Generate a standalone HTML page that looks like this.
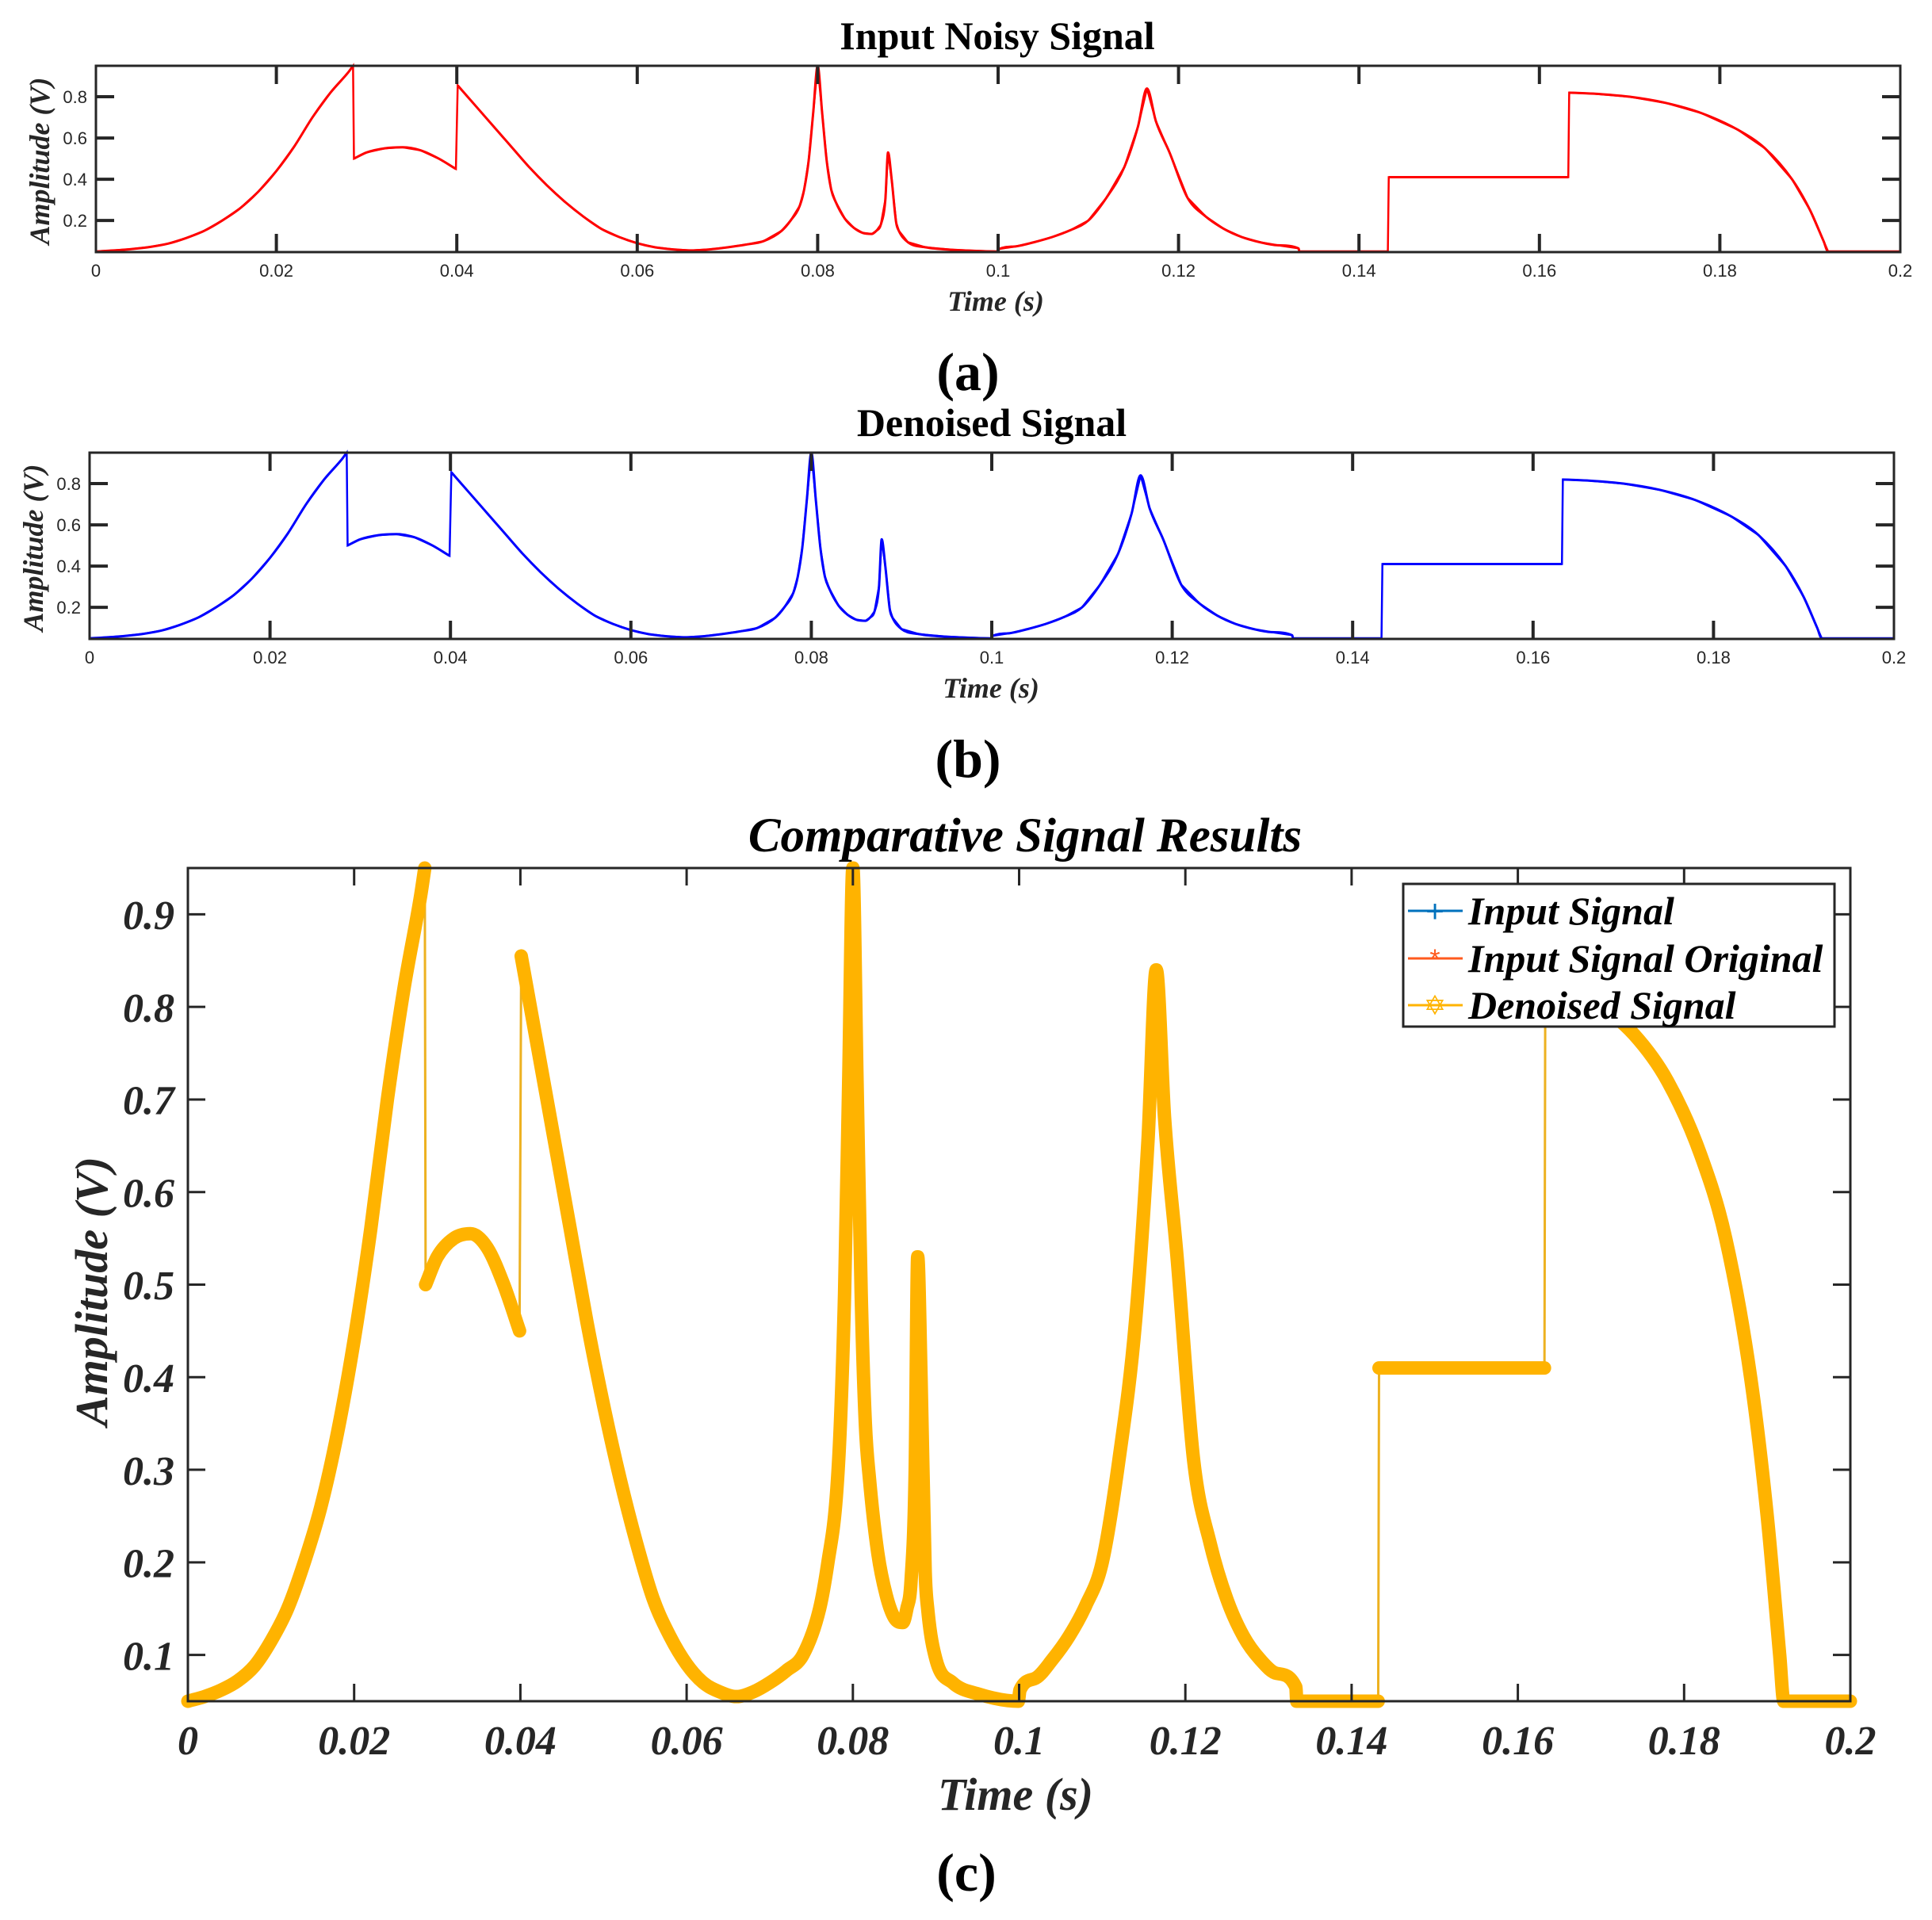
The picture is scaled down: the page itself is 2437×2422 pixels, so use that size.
<!DOCTYPE html>
<html><head><meta charset="utf-8">
<style>
html,body{margin:0;padding:0;background:#fff;}
svg{display:block;}
.serif{font-family:"Liberation Serif",serif;}
.sans{font-family:"Liberation Sans",sans-serif;}
</style></head>
<body>
<svg id="fig" width="2437" height="2422" viewBox="0 0 2437 2422" xmlns="http://www.w3.org/2000/svg"></svg>
<script>
// ---- data ----
const times = [0,0.002,0.004,0.006,0.008,0.010,0.012,0.014,0.016,0.018,0.020,0.022,0.024,0.026,0.028,0.0285,
 0.0286,0.030,0.032,0.034,0.036,0.038,0.0399,
 0.0401,0.042,0.044,0.046,0.048,0.050,0.052,0.054,0.056,0.058,0.060,0.062,0.064,0.066,
 0.068,0.070,0.072,0.074,0.076,0.077,0.078,0.0785,0.079,0.0795,0.080,0.0805,0.081,0.0815,0.082,0.083,0.084,0.085,0.086,0.0865,0.087,0.0875,0.0878,0.0882,0.0887,0.089,0.090,0.092,0.095,0.0999,
 0.1001,0.102,0.104,0.106,0.108,0.110,0.112,0.114,0.1155,0.1165,0.1175,0.119,0.121,0.123,0.125,0.127,0.129,0.131,0.1333,
 0.1334,0.1432,0.1433,0.1632,0.1633,0.166,0.170,0.174,0.178,0.182,0.185,0.188,0.190,0.1915,0.192,0.2];
const values = [0.05,0.055,0.062,0.072,0.088,0.115,0.15,0.2,0.26,0.34,0.44,0.56,0.70,0.82,0.92,0.95,
 0.50,0.53,0.55,0.555,0.54,0.50,0.45,
 0.855,0.76,0.66,0.56,0.46,0.37,0.29,0.22,0.16,0.12,0.09,0.07,0.06,0.055,
 0.06,0.07,0.083,0.10,0.15,0.2,0.27,0.35,0.49,0.72,0.95,0.72,0.49,0.35,0.29,0.21,0.165,0.14,0.135,0.15,0.18,0.3,0.53,0.4,0.19,0.15,0.095,0.07,0.058,0.05,
 0.062,0.075,0.095,0.12,0.153,0.2,0.31,0.46,0.655,0.84,0.68,0.53,0.31,0.22,0.16,0.12,0.095,0.08,0.065,
 0.05,0.05,0.41,0.41,0.82,0.815,0.80,0.77,0.72,0.64,0.55,0.40,0.25,0.10,0.05,0.05];
const xTicks = [0,0.02,0.04,0.06,0.08,0.1,0.12,0.14,0.16,0.18,0.2];
const xTickLabels = ["0","0.02","0.04","0.06","0.08","0.1","0.12","0.14","0.16","0.18","0.2"];
const yTicksSmall = [0.2,0.4,0.6,0.8];
const yTickLabelsSmall = ["0.2","0.4","0.6","0.8"];
const yTicksBig = [0.1,0.2,0.3,0.4,0.5,0.6,0.7,0.8,0.9];
const yTickLabelsBig = ["0.1","0.2","0.3","0.4","0.5","0.6","0.7","0.8","0.9"];
const legendLabels = ["Input Signal","Input Signal Original","Denoised Signal"];

const NS="http://www.w3.org/2000/svg";
const svg=document.getElementById('fig');
function mk(tag,attrs,parent,text){const e=document.createElementNS(NS,tag);for(const k in attrs)e.setAttribute(k,attrs[k]);if(text!==undefined)e.textContent=text;(parent||svg).appendChild(e);return e;}

// split indices into continuous segments at jumps
function segments(){
  let segs=[[0]];
  for(let i=1;i<times.length;i++){
    if(times[i]-times[i-1]<0.00025 && Math.abs(values[i]-values[i-1])>0.1) segs.push([i]);
    else segs[segs.length-1].push(i);
  }
  return segs;
}
// monotone cubic path through pixel points
function monoPath(P){
  const n=P.length; if(n<2) return '';
  const d=[],m=[];
  for(let i=0;i<n-1;i++) d.push((P[i+1][1]-P[i][1])/(P[i+1][0]-P[i][0]||1e-9));
  m[0]=d[0]; m[n-1]=d[n-2];
  for(let i=1;i<n-1;i++){ m[i]=(d[i-1]*d[i]<=0)?0:(d[i-1]+d[i])/2; }
  for(let i=0;i<n-1;i++){
    if(d[i]===0){m[i]=0;m[i+1]=0;continue;}
    const a=m[i]/d[i],b=m[i+1]/d[i],s=a*a+b*b;
    if(s>9){const t=3/Math.sqrt(s);m[i]=t*a*d[i];m[i+1]=t*b*d[i];}
  }
  let s='M'+P[0][0]+','+P[0][1];
  for(let i=0;i<n-1;i++){
    const h=(P[i+1][0]-P[i][0])/3;
    s+=` C${P[i][0]+h},${P[i][1]+m[i]*h} ${P[i+1][0]-h},${P[i+1][1]-m[i+1]*h} ${P[i+1][0]},${P[i+1][1]}`;
  }
  return s;
}

function panel(cfg){
  const g=mk('g',{});
  
  
  const L=cfg.L,R=cfg.R,T=cfg.T,B=cfg.B;
  const sx=v=>L+(v-0)/(0.2-0)*(R-L);
  const sy=v=>B-(v-cfg.ymin)/(cfg.ymax-cfg.ymin)*(B-T);
  const segs=segments();
  if(cfg.big){
    const thin=mk('polyline',{points:times.map((t,i)=>sx(t)+','+sy(values[i])).join(' '),fill:'none',stroke:'#EDB120','stroke-width':3},g);
    
    
    segs.forEach(s=>{
      const p=mk('path',{d:monoPath(s.map(i=>[sx(times[i]),sy(values[i])])),fill:'none',stroke:'#FFB300','stroke-width':17,'stroke-linejoin':'round','stroke-linecap':'round'},g);
      
      
    });
  } else {
    const thin=mk('polyline',{points:times.map((t,i)=>sx(t)+','+sy(values[i])).join(' '),fill:'none',stroke:cfg.color,'stroke-width':2.5},g);
    
    
    segs.forEach(s=>{
      const p=mk('path',{d:monoPath(s.map(i=>[sx(times[i]),sy(values[i])])),fill:'none',stroke:cfg.color,'stroke-width':3},g);
      
      
    });
  }
  // box
  const box=mk('rect',{x:L,y:T,width:R-L,height:B-T,fill:'none',stroke:'#262626','stroke-width':3},g);
  
  
  xTicks.forEach((v,i)=>{
    const x=sx(v);
    if(i>0&&i<xTicks.length-1){
      mk('line',{x1:x,y1:B,x2:x,y2:B-cfg.tl,stroke:'#262626','stroke-width':cfg.big?3:4},g);
      mk('line',{x1:x,y1:T,x2:x,y2:T+cfg.tl,stroke:'#262626','stroke-width':cfg.big?3:4},g);
    }
    const t=mk('text',{x:x,y:cfg.xlabY,'text-anchor':'middle','font-size':cfg.tfs,fill:'#262626',class:cfg.big?'serif':'sans','font-weight':cfg.big?'bold':'normal','font-style':cfg.big?'italic':'normal'},g,xTickLabels[i]);
    
    
  });
  const yt=cfg.big?yTicksBig:yTicksSmall, ytl=cfg.big?yTickLabelsBig:yTickLabelsSmall;
  yt.forEach((v,i)=>{
    const y=sy(v);
    mk('line',{x1:L,y1:y,x2:L+cfg.tl,y2:y,stroke:'#262626','stroke-width':cfg.big?3:4},g);
    mk('line',{x1:R,y1:y,x2:R-cfg.tl,y2:y,stroke:'#262626','stroke-width':cfg.big?3:4},g);
    const t=mk('text',{x:cfg.ylabX,y:y+cfg.tfs*0.36,'text-anchor':'end','font-size':cfg.tfs,fill:'#262626',class:cfg.big?'serif':'sans','font-weight':cfg.big?'bold':'normal','font-style':cfg.big?'italic':'normal'},g,ytl[i]);
    
    
  });
  const xl=mk('text',{x:cfg.xtX,y:cfg.xtY,'text-anchor':'middle','font-size':cfg.xfs,'font-weight':'bold','font-style':'italic',class:'serif',fill:'#262626'},g,'Time (s)');
  
  
  const yl=mk('text',{x:0,y:0,'text-anchor':'middle','font-size':cfg.yfs,'font-weight':'bold','font-style':'italic',class:'serif',fill:'#262626',transform:`translate(${cfg.ytX},${cfg.ytY}) rotate(-90)`},g,'Amplitude (V)');
  
  
  const tt=mk('text',{x:cfg.titleX,y:cfg.titleY,'text-anchor':'middle','font-size':cfg.titleFs,'font-weight':'bold','font-style':cfg.big?'italic':'normal',class:'serif',fill:'#000'},g,cfg.title);
  
  
  const cap=mk('text',{x:cfg.capX,y:cfg.capY,'text-anchor':'middle','font-size':68,'font-weight':'bold',class:'serif',fill:'#000'},g,cfg.cap);
  
  
}

panel({name:'panel-a-input-noisy',L:121,R:2397,T:83,B:318,ymin:0.047,ymax:0.95,color:'#FF0000',seriesName:'noisy-signal-line',
  tl:23,tfs:22,xlabY:349,ylabX:110,xtX:1256,xtY:392,xfs:36,ytX:62,ytY:203,yfs:36,
  title:'Input Noisy Signal',titleX:1258,titleY:62,titleFs:50,cap:'(a)',capX:1221,capY:492});
panel({name:'panel-b-denoised',L:113,R:2389,T:571,B:806,ymin:0.047,ymax:0.95,color:'#0000FF',seriesName:'denoised-signal-line',
  tl:23,tfs:22,xlabY:837,ylabX:102,xtX:1250,xtY:880,xfs:36,ytX:54,ytY:691,yfs:36,
  title:'Denoised Signal',titleX:1251,titleY:550,titleFs:50,cap:'(b)',capX:1221,capY:980});
panel({name:'panel-c-comparative',big:true,L:237,R:2334,T:1095,B:2146,ymin:0.05,ymax:0.95,
  tl:22,tfs:52,xlabY:2213,ylabX:220,xtX:1281,xtY:2283,xfs:58,ytX:135,ytY:1629,yfs:58,
  title:'Comparative Signal Results',titleX:1293,titleY:1074,titleFs:61,cap:'(c)',capX:1219,capY:2385});

// legend
const lg=mk('g',{});


mk('rect',{x:1770,y:1115,width:544,height:180,fill:'#fff',stroke:'#262626','stroke-width':3},lg);
const lcol=['#0072BD','#FF5A1E','#FFB300'];
const lys=[1149,1209,1268];
legendLabels.forEach((lab,i)=>{
  const e=mk('g',{},lg);
  
  
  const y=lys[i];
  mk('line',{x1:1776,y1:y,x2:1845,y2:y,stroke:lcol[i],'stroke-width':3},e);
  mk('text',{x:1810,y:y+(i==0?14:12),'text-anchor':'middle','font-size':i==0?40:34,fill:lcol[i],class:'sans'},e,i==0?'+':(i==1?'*':'✡'));
  mk('text',{x:1852,y:y+17,'font-size':50,'font-weight':'bold','font-style':'italic',class:'serif',fill:'#000'},e,lab);
});
</script>
</body></html>
